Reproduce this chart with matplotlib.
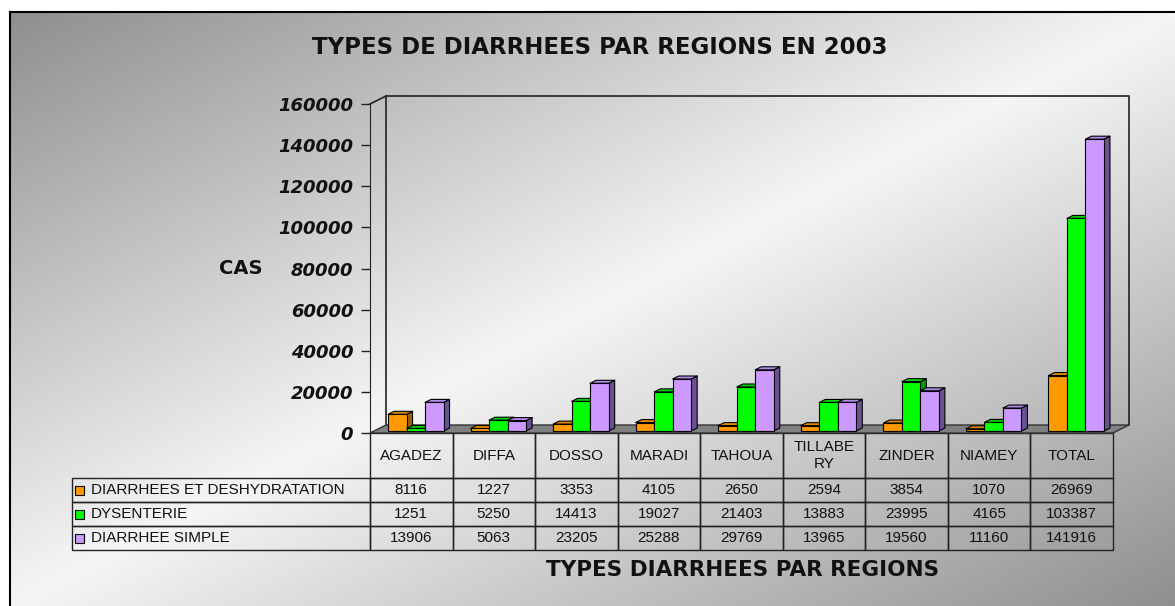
import numpy as np
import matplotlib
matplotlib.use("Agg")
import matplotlib.pyplot as plt
from matplotlib.patches import Polygon, Rectangle
from matplotlib.collections import PolyCollection

# data
regions = ["AGADEZ", "DIFFA", "DOSSO", "MARADI", "TAHOUA", "TILLABE\nRY",
           "ZINDER", "NIAMEY", "TOTAL"]
series_names = ["DIARRHEES ET DESHYDRATATION", "DYSENTERIE", "DIARRHEE SIMPLE"]
deshydratation = [8116, 1227, 3353, 4105, 2650, 2594, 3854, 1070, 26969]
dysenterie = [1251, 5250, 14413, 19027, 21403, 13883, 23995, 4165, 103387]
diarrhee_simple = [13906, 5063, 23205, 25288, 29769, 13965, 19560, 11160, 141916]
yticks = [0, 20000, 40000, 60000, 80000, 100000, 120000, 140000, 160000]

front_col = ["#FF9900", "#00FF00", "#CC99FF"]
side_col = ["#9A6200", "#009A00", "#6A5290"]
top_col = ["#E08800", "#00D000", "#B48AEC"]

W, H = 1175, 606
fig = plt.figure(figsize=(W / 100, H / 100), dpi=100)

# background with diagonal gray gradient, pixel coordinates
bg = fig.add_axes([0, 0, 1, 1])
bg.set_xlim(0, W)
bg.set_ylim(H, 0)
bg.axis("off")
xx, yy = np.meshgrid(np.linspace(0, 1, 400), np.linspace(0, 1, 200))
t = (xx + yy) / 2
shade = 0.96 - 0.40 * np.abs(2 * t - 1)
bg.imshow(shade, cmap="gray", vmin=0, vmax=1, extent=(10, W, H, 12),
          aspect="auto", interpolation="bilinear")
bg.plot([10, W], [12, 12], color="black", lw=1.5)
bg.plot([10, 10], [12, H], color="black", lw=1.5)

bg.text(600, 47, "TYPES DE DIARRHEES PAR REGIONS EN 2003", ha="center",
        va="center", fontsize=16.5, fontweight="bold", color="#111111")
bg.text(241, 268, "CAS", ha="center", va="center", fontsize=14,
        fontweight="bold", color="#111111")
bg.text(743, 570, "TYPES DIARRHEES PAR REGIONS", ha="center", va="center",
        fontsize=15.5, fontweight="bold", color="#111111")

# main plot area (front plane)
ax = fig.add_axes([370 / W, 1 - 433 / H, 743 / W, 329 / H])
ax.patch.set_alpha(0)
n = len(regions)
ymax = yticks[-1]
ax.set_xlim(0, n)
ax.set_ylim(0, ymax)
for s in ax.spines.values():
    s.set_visible(False)
ax.spines["left"].set_visible(True)
ax.spines["left"].set_color("#222222")
ax.set_xticks([])
ax.set_yticks(yticks)
ax.set_yticklabels([str(v) for v in yticks], fontsize=13, fontweight="bold",
                   fontstyle="italic", color="#111111")
ax.tick_params(axis="y", direction="out", length=6.5, width=1, pad=5.5,
               color="#222222")

# pixel -> data factors
sx = n / 743.0
sy = ymax / 329.0

# walls and floor
dxw, dyw = 16 * sx, 8 * sy
ax.add_patch(Polygon([(0, 0), (n, 0), (n + dxw, dyw), (dxw, dyw)],
                     closed=True, fc="#808080", ec="#333333", lw=1,
                     clip_on=False, zorder=2))
ax.plot([dxw, dxw, n + dxw, n + dxw], [dyw, ymax + dyw, ymax + dyw, dyw],
        color="#222222", lw=1.2, clip_on=False, zorder=1)
ax.plot([0, dxw], [ymax, ymax + dyw], color="#222222", lw=1.2,
        clip_on=False, zorder=1)

# 3D bars
bw = 18.5 * sx
bx0, by0 = 4.5 * sx, 2 * sy
ddx, ddy = 6 * sx, 3 * sy
centers = np.arange(n) + 0.5
for j, vals in enumerate([deshydratation, dysenterie, diarrhee_simple]):
    vals = np.array(vals, dtype=float)
    x = centers + (j - 1) * bw + bx0
    xl, xr = x - bw / 2, x + bw / 2
    top = by0 + vals
    sides = [[(r, by0), (r, tp), (r + ddx, tp + ddy), (r + ddx, by0 + ddy)]
             for r, tp in zip(xr, top)]
    tops = [[(l, tp), (r, tp), (r + ddx, tp + ddy), (l + ddx, tp + ddy)]
            for l, r, tp in zip(xl, xr, top)]
    z = 3 + j
    ax.add_collection(PolyCollection(sides, facecolors=side_col[j],
                                     edgecolors="black", linewidths=0.8,
                                     zorder=z, clip_on=False))
    ax.add_collection(PolyCollection(tops, facecolors=top_col[j],
                                     edgecolors="black", linewidths=0.8,
                                     zorder=z, clip_on=False))
    ax.bar(x, vals, width=bw, bottom=by0, color=front_col[j],
           edgecolor="black", linewidth=0.8, zorder=z + 0.5, clip_on=False)

# data table: first column holds the series names
rows = [deshydratation, dysenterie, diarrhee_simple]
cell_text = [[name] + [str(v) for v in row]
             for name, row in zip(series_names, rows)]
tbl = ax.table(cellText=cell_text, colLabels=[""] + regions,
               cellLoc="center",
               bbox=[-298 / 743, -117 / 329, 1041 / 743, 117 / 329])
tbl.auto_set_font_size(False)
tbl.set_fontsize(11)
for (r, c), cell in tbl.get_celld().items():
    cell.set_facecolor("none")
    cell.set_edgecolor("#222222")
    cell.set_linewidth(1)
    cell.set_width(298 if c == 0 else 743 / n)
    cell.set_height(45 if r == 0 else 24)
    txt = cell.get_text()
    txt.set_fontfamily("Liberation Sans")
    txt.set_color("#111111")
    txt.set_linespacing(1.25)
    if c == 0:
        txt.set_horizontalalignment("left")
        cell.PAD = 19 / 298
    if r == 0 and c == 0:
        cell.set_visible(False)

# legend keys in the table
for i in range(3):
    yc = 478 + 12 + 24 * i
    bg.add_patch(Rectangle((75, yc - 4.5), 9, 9, fc=front_col[i],
                           ec="black", lw=0.8, zorder=5))

fig.savefig("out.png", dpi=100)
